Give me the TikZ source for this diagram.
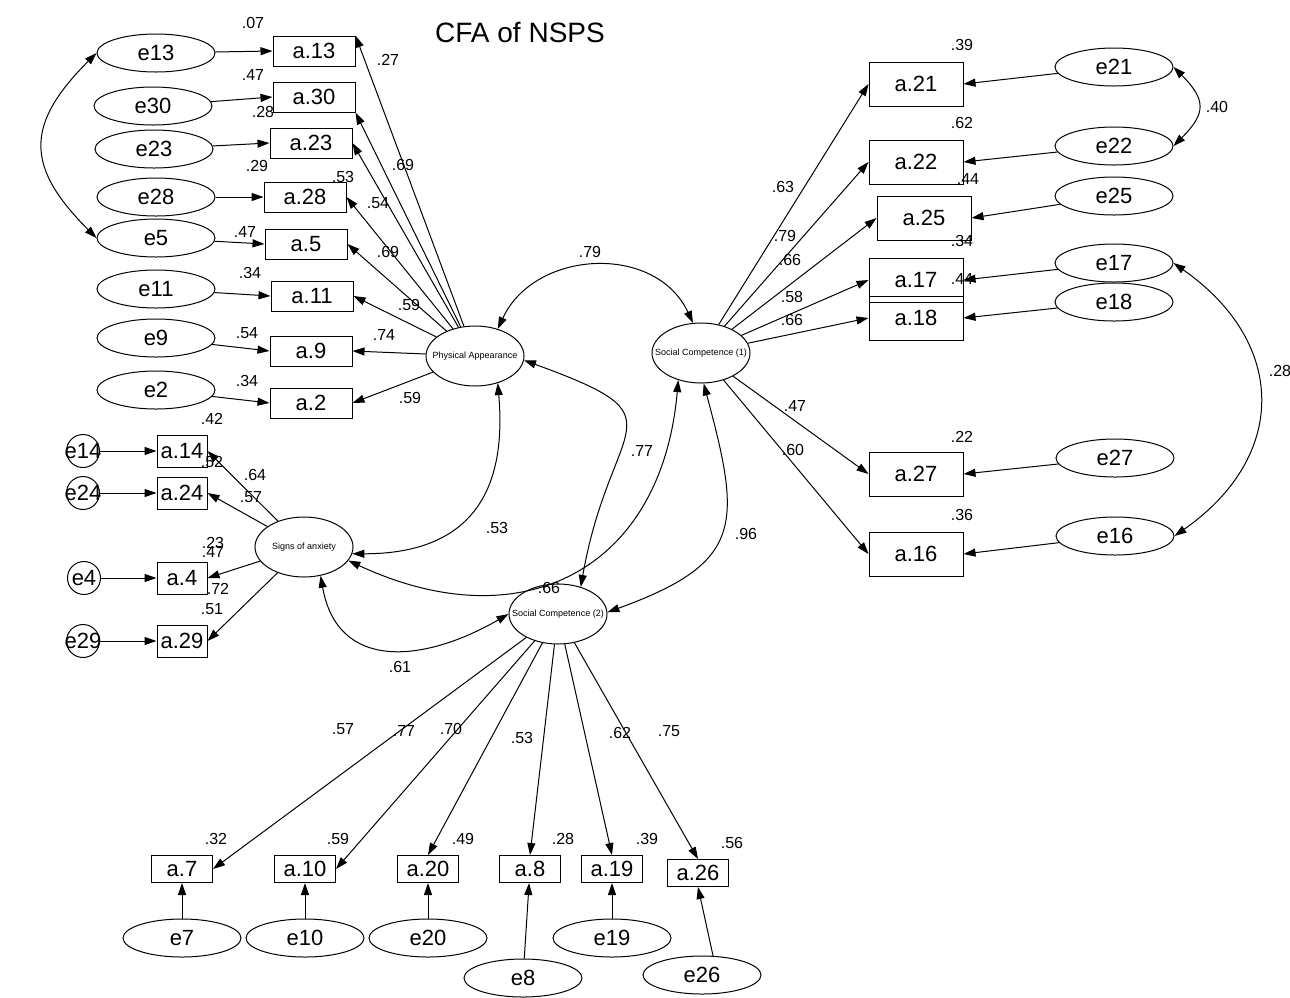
\documentclass[tikz,border=0pt]{standalone}
\usepackage{fontspec}
\setmainfont{Liberation Sans}
\usetikzlibrary{shapes.geometric,arrows.meta}
\newcommand{\ztext}[1]{\makebox[0pt]{#1}}

\begin{document}
\begin{tikzpicture}[
  x=0.5pt,y=-0.5pt,
  font=\fontsize{11}{12}\selectfont,
  obs/.style={draw,rectangle,inner sep=0pt,line width=0.5pt},
  obsl/.style={obs,minimum width=41pt,minimum height=15pt},
  obsa/.style={obs,minimum width=25pt,minimum height=16pt},
  obsr/.style={obs,minimum width=47pt,minimum height=22pt},
  obsb/.style={obs,minimum width=30.5pt,minimum height=13.5pt},
  err/.style={draw,ellipse,inner sep=0pt,line width=0.5pt,minimum width=59pt,minimum height=19pt},
  errc/.style={draw,circle,inner sep=0pt,line width=0.5pt,minimum size=16.5pt},
  lat/.style={draw,ellipse,inner sep=0pt,line width=0.5pt,minimum width=49pt,minimum height=30pt,font=\fontsize{4.5}{5}\selectfont},
  num/.style={inner sep=0pt,font=\fontsize{8}{9}\selectfont},
  arr/.style={-{Triangle[length=6pt,width=4pt]},line width=0.5pt},
  covar/.style={{Triangle[length=6pt,width=4pt]}-{Triangle[length=6pt,width=4pt]},line width=0.5pt}]
  \useasboundingbox (0,0) rectangle (1290,997);
  \node[font=\fontsize{14}{16}\selectfont] (title) at (520,33) {CFA of NSPS};
  % latent factors
  \node[lat] (pa) at (475,356) {\ztext{Physical Appearance}};
  \node[lat] (sc1) at (701,353) {\ztext{Social Competence (1)}};
  \node[lat] (anx) at (304,547) {\ztext{Signs of anxiety}};
  \node[lat] (sc2) at (558,614) {\ztext{Social Competence (2)}};
  % physical appearance items
  \node[err] (e13) at (156,53) {e13};  \node[obsl] (a13) at (314,51) {a.13};
  \node[err] (e30) at (153,106) {e30}; \node[obsl] (a30) at (314,97) {a.30};
  \node[err] (e23) at (154,149) {e23}; \node[obsl] (a23) at (311,143) {a.23};
  \node[err] (e28) at (156,197) {e28}; \node[obsl] (a28) at (305,197) {a.28};
  \node[err] (e5) at (156,238) {e5};   \node[obsl] (a5) at (306,244) {a.5};
  \node[err] (e11) at (156,289) {e11}; \node[obsl] (a11) at (312,296) {a.11};
  \node[err] (e9) at (156,338) {e9};   \node[obsl] (a9) at (311,351) {a.9};
  \node[err] (e2) at (156,390) {e2};   \node[obsl] (a2) at (311,403) {a.2};
  % anxiety items
  \node[errc] (e14) at (83,451) {\ztext{e14}}; \node[obsa] (a14) at (182,451) {a.14};
  \node[errc] (e24) at (83,493) {\ztext{e24}}; \node[obsa] (a24) at (182,493) {a.24};
  \node[errc] (e4) at (84,578) {\ztext{e4}};   \node[obsa] (a4) at (182,578) {a.4};
  \node[errc] (e29) at (83,641) {\ztext{e29}}; \node[obsa] (a29) at (182,641) {a.29};
  % social competence (1) items
  \node[obsr] (a21) at (916,84) {a.21};  \node[err] (e21) at (1114,67) {e21};
  \node[obsr] (a22) at (916,162) {a.22}; \node[err] (e22) at (1114,146) {e22};
  \node[obsr] (a25) at (924,218) {a.25}; \node[err] (e25) at (1114,196) {e25};
  \node[obsr] (a17) at (916,280) {a.17}; \node[err] (e17) at (1114,263) {e17};
  \node[obsr] (a18) at (916,318) {a.18}; \node[err] (e18) at (1114,302) {e18};
  \node[obsr] (a27) at (916,474) {a.27}; \node[err] (e27) at (1115,458) {e27};
  \node[obsr] (a16) at (916,554) {a.16}; \node[err] (e16) at (1115,536) {e16};
  % social competence (2) items
  \node[obsb] (a7) at (182,869) {a.7};   \node[err] (e7) at (182,938) {e7};
  \node[obsb] (a10) at (305,869) {a.10}; \node[err] (e10) at (305,938) {e10};
  \node[obsb] (a20) at (428,869) {a.20}; \node[err] (e20) at (428,938) {e20};
  \node[obsb] (a8) at (530,869) {a.8};   \node[err] (e8) at (523,978) {e8};
  \node[obsb] (a19) at (612,869) {a.19}; \node[err] (e19) at (612,938) {e19};
  \node[obsb] (a26) at (698,873) {a.26}; \node[err] (e26) at (702,975) {e26};
  % error paths
  \draw[arr] (e13) -- (a13.west); \draw[arr] (e30) -- (a30.west); \draw[arr] (e23) -- (a23.west); \draw[arr] (e28) -- (a28.west);
  \draw[arr] (e5) -- (a5.west); \draw[arr] (e11) -- (a11.west); \draw[arr] (e9) -- (a9.west); \draw[arr] (e2) -- (a2.west);
  \draw[arr] (e14) -- (a14.west); \draw[arr] (e24) -- (a24.west); \draw[arr] (e4) -- (a4.west); \draw[arr] (e29) -- (a29.west);
  \draw[arr] (e21) -- (a21.east); \draw[arr] (e22) -- (a22.east); \draw[arr] (e25) -- (a25.east); \draw[arr] (e17) -- (a17.east);
  \draw[arr] (e18) -- (a18.east); \draw[arr] (e27) -- (a27.east); \draw[arr] (e16) -- (a16.east);
  \draw[arr] (e7) -- (a7); \draw[arr] (e10) -- (a10); \draw[arr] (e20) -- (a20); \draw[arr] (e8) -- (a8);
  \draw[arr] (e19) -- (a19); \draw[arr] (e26.60) -- (a26.south);
  % loadings
  \draw[arr] (pa) -- (a13.north east); \draw[arr] (pa) -- (a30.south east); \draw[arr] (pa) -- (a23.east); \draw[arr] (pa) -- (a28.east);
  \draw[arr] (pa) -- (a5.east); \draw[arr] (pa) -- (a11.east); \draw[arr] (pa) -- (a9.east); \draw[arr] (pa) -- (a2.east);
  \draw[arr] (anx) -- (a14.east); \draw[arr] (anx) -- (a24.east); \draw[arr] (anx) -- (a4.east); \draw[arr] (anx) -- (a29.east);
  \draw[arr] (sc1) -- (a21.west); \draw[arr] (sc1) -- (a22.west); \draw[arr] (sc1) -- (a25.west); \draw[arr] (sc1) -- (a17.west);
  \draw[arr] (sc1) -- (a18.west); \draw[arr] (sc1) -- (a27.west); \draw[arr] (sc1) -- (a16.west);
  \draw[arr] (sc2) -- (a7.east); \draw[arr] (sc2) -- (a10.east); \draw[arr] (sc2) -- (a20.north);
  \draw[arr] (sc2) -- (a8.north); \draw[arr] (sc2) -- (a19.north); \draw[arr] (sc2) -- (a26.north);
  % correlations
  \draw[covar] (e13.west) to[out=225,in=135,looseness=1.4] (e5.west);
  \draw[covar] (e21.east) to[out=-45,in=45,looseness=1.5] (e22.east);
  \draw[covar] (e17.east) to[out=-35,in=35,looseness=1.3] (e16.east);
  \draw[covar] (pa.50) to[out=65,in=115,looseness=1.15] (sc1.105);
  \draw[covar] (pa.-50) to[out=-85,in=0,looseness=1.3] (anx.-8);
  \draw[covar] (pa.-5) to[out=-20,in=80,looseness=1.9] (sc2.50);
  \draw[covar] (sc1.-130) to[out=-95,in=-25,looseness=1.3] (anx.-17);
  \draw[covar] (sc1.-85) to[out=-75,in=20,looseness=1.5] (sc2.2);
  \draw[covar] (anx.-60) to[out=-80,in=210,looseness=1.3] (sc2.180);
  % estimates, left
  \node[num] (r13) at (253,23) {.07}; \node[num] (r30) at (253,75) {.47}; \node[num] (r23) at (263,112) {.28};
  \node[num] (r28) at (257,166) {.29}; \node[num] (r28b) at (343,177) {.53}; \node[num] (r5) at (245,232) {.47};
  \node[num] (r11) at (250,273) {.34}; \node[num] (r9) at (247,333) {.54}; \node[num] (r2) at (247,381) {.34};
  \node[num] (w13) at (388,60) {.27}; \node[num] (w30) at (403,165) {.69}; \node[num] (w23) at (378,203) {.54};
  \node[num] (w28) at (388,252) {.69}; \node[num] (w5) at (409,305) {.59}; \node[num] (w11) at (384,335) {.74};
  \node[num] (w2) at (410,398) {.59};
  \node[num] (r14) at (212,419) {.42}; \node[num] (r24) at (212,462) {.52}; \node[num] (w14) at (255,475) {.64};
  \node[num] (w24) at (251,497) {.57}; \node[num] (r4a) at (213,543) {.23}; \node[num] (r4) at (213,552) {.47};
  \node[num] (w4) at (218,589) {.72}; \node[num] (w29) at (212,609) {.51};
  % estimates, factor correlations
  \node[num] (cpasc1) at (590,252) {.79}; \node[num] (cpaanx) at (497,528) {.53}; \node[num] (cpasc2) at (642,451) {.77};
  \node[num] (csc1anx) at (549,588) {.66}; \node[num] (csc) at (746,534) {.96}; \node[num] (canxsc2) at (400,667) {.61};
  % estimates, right
  \node[num] (v63) at (783,187) {.63}; \node[num] (v79) at (785,236) {.79}; \node[num] (v66) at (790,260) {.66};
  \node[num] (v58) at (792,297) {.58}; \node[num] (v66b) at (792,320) {.66}; \node[num] (v47) at (795,406) {.47};
  \node[num] (v60) at (793,450) {.60};
  \node[num] (r21) at (962,45) {.39}; \node[num] (r22) at (962,123) {.62}; \node[num] (r25) at (968,179) {.44};
  \node[num] (r17) at (962,241) {.34}; \node[num] (r18) at (962,279) {.44}; \node[num] (r27) at (962,437) {.22};
  \node[num] (r16) at (962,515) {.36}; \node[num] (c2122) at (1217,107) {.40}; \node[num] (c1716) at (1280,371) {.28};
  % estimates, bottom
  \node[num] (u7) at (343,729) {.57}; \node[num] (u10) at (404,731) {.77}; \node[num] (u20) at (451,729) {.70};
  \node[num] (u8) at (522,738) {.53}; \node[num] (u19) at (620,733) {.62}; \node[num] (u26) at (669,731) {.75};
  \node[num] (r7) at (216,839) {.32}; \node[num] (r10) at (338,839) {.59}; \node[num] (r20) at (463,839) {.49};
  \node[num] (r8) at (563,839) {.28}; \node[num] (r19) at (647,839) {.39}; \node[num] (r26) at (732,843) {.56};
\end{tikzpicture}
\end{document}
